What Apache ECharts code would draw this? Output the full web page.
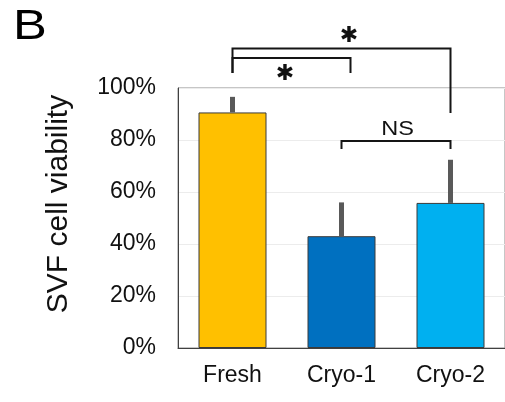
<!DOCTYPE html>
<html>
<head>
<meta charset="utf-8">
<script src="https://cdn.jsdelivr.net/npm/echarts@6/dist/echarts.min.js"></script>
<style>
  html, body { margin: 0; padding: 0; background: #ffffff; }
  #chart { width: 505px; height: 402px; }
</style>
</head>
<body>
<div id="chart"></div>
<script>
// SVF cell viability by preparation
const categories = ['Fresh', 'Cryo-1', 'Cryo-2'];
const viability = [90.6, 43.0, 55.8];      // mean, %
const viabilitySD = [6.0, 13.0, 16.6];     // SD, %
const barColors = ['#FFC000', '#0070C0', '#00B0F0'];
const yTicks = [0, 20, 40, 60, 80, 100];

// Significance brackets: category span, bar height and leg ends (in % units)
const bracketFrom = [0, 0, 1];
const bracketTo = [2, 1, 2];
const bracketTop = [115.2, 111.5, 79.6];
const bracketLegFrom = [105.8, 105.8, 76.5];
const bracketLegTo = [90.4, 105.8, 76.5];
const bracketText = ['*', '*', 'NS'];

const FONT = '"Liberation Sans", Arial, sans-serif';

// pixel nudges for the annotation glyphs
const bracketStyle = [
  { endNudge: 0, textDx: 7.5, textDy: -12, star: true },
  { endNudge: 9, textDx: -6.5, textDy: 16.5, star: true },
  { endNudge: 0, textDx: 1.5, textDy: -12, star: false }
];

const chart = echarts.init(document.getElementById('chart'), null, { renderer: 'canvas' });

const option = {
  animation: false,
  backgroundColor: '#ffffff',
  grid: {
    left: 178, top: 88, right: -2, bottom: 54,
    show: true, borderColor: '#8c8c8c', borderWidth: 1, containLabel: false
  },
  xAxis: {
    type: 'category',
    data: categories,
    axisLine: { show: true, lineStyle: { color: '#404040', width: 1 } },
    axisTick: { show: false },
    axisLabel: { color: '#111111', fontFamily: FONT, fontSize: 23, margin: 16 }
  },
  yAxis: {
    type: 'value',
    min: 0, max: 100, interval: 20,
    axisLine: { show: true, lineStyle: { color: '#404040', width: 1 } },
    axisTick: { show: false },
    splitLine: { show: true, lineStyle: { color: '#ececec', width: 1 } },
    axisLabel: {
      color: '#111111', fontFamily: FONT, fontSize: 23, margin: 22,
      formatter: v => (yTicks.indexOf(v) >= 0 ? v + '%' : '')
    }
  },
  graphic: [
    {
      type: 'text', left: 13, top: 6, scaleX: 1.18,
      style: { text: 'B', font: '43px ' + FONT, fill: '#000000' }
    },
    {
      type: 'text', x: 59, y: 204, rotation: Math.PI / 2,
      style: {
        text: 'SVF cell viability', font: '30px ' + FONT, fill: '#111111',
        textAlign: 'center', textVerticalAlign: 'middle'
      }
    }
  ],
  series: [
    {
      type: 'bar',
      data: viability.map((v, i) => ({
        value: v,
        itemStyle: { color: barColors[i], borderColor: '#3a3a3a', borderWidth: 1 }
      })),
      barWidth: 68,
      z: 2
    },
    {
      // upper SD whiskers
      type: 'custom',
      clip: false,
      z: 3,
      data: viability.map((v, i) => [i, v, viabilitySD[i]]),
      encode: { x: 0, y: 1 },
      renderItem: (params, api) => {
        const i = api.value(0), v = api.value(1), e = api.value(2);
        const base = api.coord([i, v]);
        const top = api.coord([i, v + e]);
        return {
          type: 'rect',
          shape: { x: base[0] - 2.5, y: top[1], width: 5, height: base[1] - top[1] },
          style: { fill: '#595959' }
        };
      }
    },
    {
      // significance brackets
      type: 'custom',
      clip: false,
      z: 4,
      silent: true,
      data: bracketFrom.map((f, i) => [f, bracketTo[i], bracketTop[i], bracketLegFrom[i], bracketLegTo[i]]),
      encode: { x: 0, y: 2 },
      renderItem: (params, api) => {
        const k = params.dataIndex;
        const st = bracketStyle[k];
        const a = api.coord([api.value(0), api.value(2)]);
        const b = api.coord([api.value(1), api.value(2)]);
        const aLeg = api.coord([api.value(0), api.value(3)]);
        const bLeg = api.coord([api.value(1), api.value(4)]);
        const xa = a[0], xb = b[0] + st.endNudge;
        const txt = bracketText[k];
        return {
          type: 'group',
          children: [
            {
              type: 'polyline',
              shape: { points: [[xa, aLeg[1]], [xa, a[1]], [xb, b[1]], [xb, bLeg[1]]] },
              style: { stroke: '#151515', lineWidth: 2, fill: null }
            },
            {
              type: 'text',
              x: (xa + xb) / 2 + st.textDx,
              y: a[1] + st.textDy,
              scaleX: st.star ? 1 : 1.12,
              style: st.star
                ? { text: '\u2731', font: '22px "DejaVu Sans", sans-serif', fill: '#111111',
                    textAlign: 'center', textVerticalAlign: 'middle' }
                : { text: txt, font: '21px ' + FONT, fill: '#111111',
                    textAlign: 'center', textVerticalAlign: 'middle' }
            }
          ]
        };
      }
    }
  ]
};

chart.setOption(option);
</script>
</body>
</html>
